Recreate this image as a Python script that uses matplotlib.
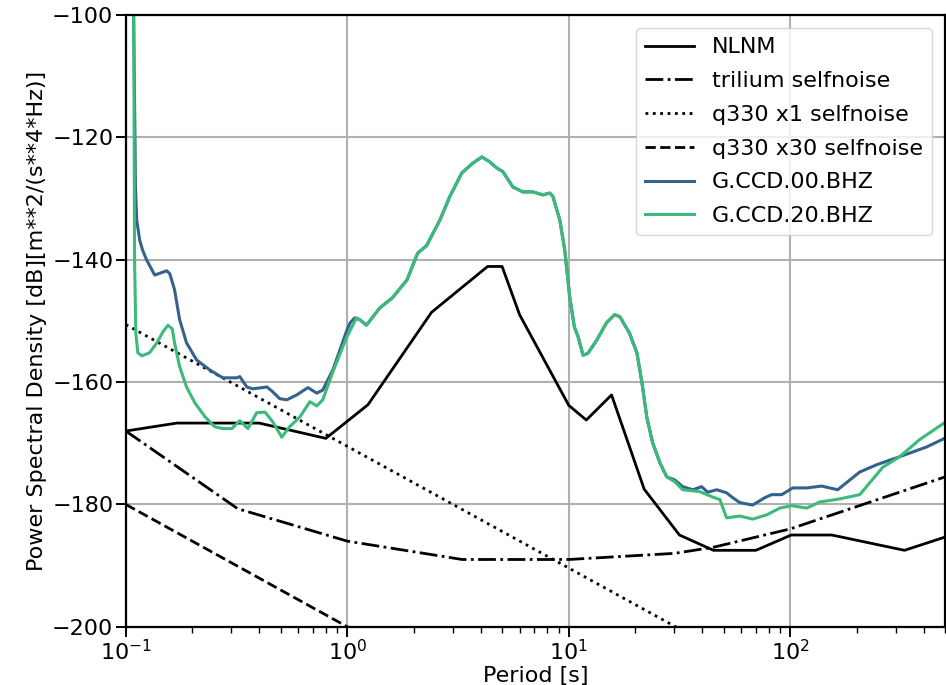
import matplotlib
matplotlib.use("Agg")
import matplotlib.pyplot as plt
import numpy as np

# NLNM (Peterson) in dB
nlnm_period = [0.1, 0.17, 0.4, 0.8, 1.24, 2.4, 4.3, 5.0, 6.0, 10, 12, 15.6, 21.9, 31.6, 45, 70, 101, 154, 328, 600]
nlnm_db = [-168.0, -166.7, -166.7, -169.2, -163.7, -148.6, -141.1, -141.1, -149.0, -163.8, -166.2, -162.1,
           -177.5, -185.0, -187.5, -187.5, -185.0, -185.0, -187.5, -184.4]

trillium_period = [0.1, 0.32, 1.0, 3.3, 10, 30, 45, 100, 500]
trillium_db = [-168.0, -180.7, -186.0, -189.0, -189.0, -188.0, -187.0, -184.0, -175.5]

q330x1_period = [0.1, 1, 10, 100]
q330x1_db = [-150.6, -170.5, -190.4, -210.3]

q330x30_period = [0.1, 1, 10]
q330x30_db = [-180.0, -200.0, -220.0]

ccd00_period = [0.108, 0.110, 0.1105, 0.112, 0.1155, 0.119, 0.124, 0.135, 0.153, 0.158, 0.166, 0.175, 0.188,
                0.209, 0.239, 0.274, 0.317, 0.327, 0.352, 0.374, 0.434, 0.461, 0.495, 0.533, 0.591, 0.664,
                0.728, 0.775, 0.861, 0.996, 1.03, 1.08, 1.14, 1.22, 1.40, 1.60, 1.86, 2.08, 2.28, 2.62, 2.90,
                3.29, 3.69, 4.05, 4.40, 4.73, 5.04, 5.59, 6.20, 6.87, 7.63, 8.20, 8.47, 9.11, 9.59, 10.1,
                10.6, 11.0, 11.6, 12.2, 13.4, 14.8, 16.1, 17.0, 18.8, 20.3, 21.4, 22.5, 23.9, 25.8, 27.7,
                30.1, 32.7, 36.3, 39.8, 42.4, 46.6, 51.6, 55.0, 59.2, 67.7, 76.7, 82.4, 91.6, 102.6, 118.6,
                138.7, 163.7, 206, 246, 312, 413, 504]
ccd00_db = [-95, -120, -128, -133.5, -136.8, -138.4, -140, -142.5, -141.8, -142.3, -144.9, -149.8, -153.6,
            -156.4, -158, -159.3, -159.3, -159.1, -160.8, -161.1, -160.8, -161.6, -162.7, -162.9, -162.1, -160.9,
            -161.8, -161.3, -158, -151.5, -150.3, -149.5, -149.8, -150.7, -147.9, -146.2, -143.3, -138.9, -137.7,
            -133.5, -129.7, -125.8, -124.2, -123.2, -124, -125, -125.6, -128.1, -128.9, -128.9, -129.4, -129.1,
            -129.6, -133.5, -138.4, -146.1, -151, -152.5, -155.6, -155.3, -153.1, -150.3, -149, -149.3, -152,
            -155.2, -160.1, -165.7, -169.9, -173.2, -175.5, -176, -177.1, -177.6, -177.1, -178, -177.6, -178.1,
            -178.9, -179.7, -180.1, -178.9, -178.4, -178.4, -177.3, -177.3, -177, -177.6, -174.7, -173.5,
            -172.2, -170.6, -169.1]

ccd20_period = [0.1085, 0.1095, 0.111, 0.1133, 0.118, 0.128, 0.138, 0.147, 0.155, 0.162, 0.166, 0.175, 0.188,
                0.205, 0.228, 0.252, 0.274, 0.301, 0.327, 0.356, 0.390, 0.425, 0.461, 0.506, 0.549, 0.611,
                0.678, 0.728, 0.775, 0.861, 0.996, 1.10, 1.14, 1.22, 1.40, 1.60, 1.86, 2.08, 2.28, 2.62, 2.90,
                3.29, 3.69, 4.05, 4.40, 4.73, 5.04, 5.59, 6.20, 6.87, 7.63, 8.20, 8.47, 9.11, 9.59, 10.1,
                10.6, 11.0, 11.6, 12.2, 13.4, 14.8, 16.1, 17.0, 18.8, 20.3, 21.4, 22.5, 23.9, 25.8, 27.7,
                30.1, 32.7, 39.0, 44.7, 48.1, 51.6, 59.2, 67.7, 78.3, 89.7, 101.6, 118.6, 135.8, 167.2, 206,
                262, 312, 384, 504]
ccd20_db = [-95, -140, -152, -155.2, -155.7, -155.2, -153.6, -151.8, -150.7, -151.3, -153.6, -157.5, -160.8,
            -163.4, -165.7, -167.3, -167.6, -167.6, -166.3, -167.6, -165, -164.9, -166.5, -169, -167.3, -165.7,
            -163.2, -163.9, -162.9, -158.3, -152.6, -149.5, -149.8, -150.7, -147.9, -146.2, -143.3, -138.9,
            -137.7, -133.5, -129.7, -125.8, -124.2, -123.2, -124, -125, -125.6, -128.1, -128.9, -128.9, -129.4,
            -129.1, -129.6, -133.5, -138.4, -146.1, -151, -152.5, -155.6, -155.3, -153.1, -150.3, -149, -149.3,
            -152, -155.2, -160.1, -165.7, -169.9, -173.2, -175.5, -176.3, -177.6, -177.9, -178.8, -179.2,
            -182.2, -181.9, -182.4, -181.7, -180.6, -180.2, -180.6, -179.6, -179.1, -178.4, -173.9, -172.2,
            -169.4, -166.5]

labels = ["NLNM", "trilium selfnoise", "q330 x1 selfnoise", "q330 x30 selfnoise", "G.CCD.00.BHZ", "G.CCD.20.BHZ"]
col00 = "#33638d"
col20 = "#3dba7a"

FS = 16
plt.rcParams["font.size"] = FS
fig = plt.figure(figsize=(9.46, 6.85), dpi=100)
ax = fig.add_axes([0.133, 0.085, 0.866, 0.893])

ax.plot(nlnm_period, nlnm_db, color="black", lw=2.0, label=labels[0])
ax.plot(trillium_period, trillium_db, color="black", lw=2.0, ls="-.", label=labels[1])
ax.plot(q330x1_period, q330x1_db, color="black", lw=2.0, ls=":", label=labels[2])
ax.plot(q330x30_period, q330x30_db, color="black", lw=2.0, ls="--", label=labels[3])
ax.plot(ccd00_period, ccd00_db, color=col00, lw=2.2, label=labels[4])
ax.plot(ccd20_period, ccd20_db, color=col20, lw=2.2, label=labels[5])

ax.set_xscale("log")
ax.set_xlim(0.1, 500)
ax.set_ylim(-200, -100)
ax.set_yticks(np.arange(-200, -99, 20))
ax.grid(True, which="major", color="#b0b0b0", lw=1.5)
ax.set_axisbelow(True)
for s in ax.spines.values():
    s.set_linewidth(1.6)
ax.tick_params(which="major", length=7, width=1.4, labelsize=FS, pad=2)
ax.tick_params(which="minor", length=4, width=1.0)
ax.set_xlabel("Period [s]", fontsize=FS, labelpad=1)
ax.set_ylabel("Power Spectral Density [dB][m**2/(s**4*Hz)]", fontsize=FS, labelpad=4)
ax.legend(loc="upper right", fontsize=FS, handlelength=2.2, labelspacing=0.62, borderaxespad=0.6)

fig.savefig("out.png", dpi=100)
